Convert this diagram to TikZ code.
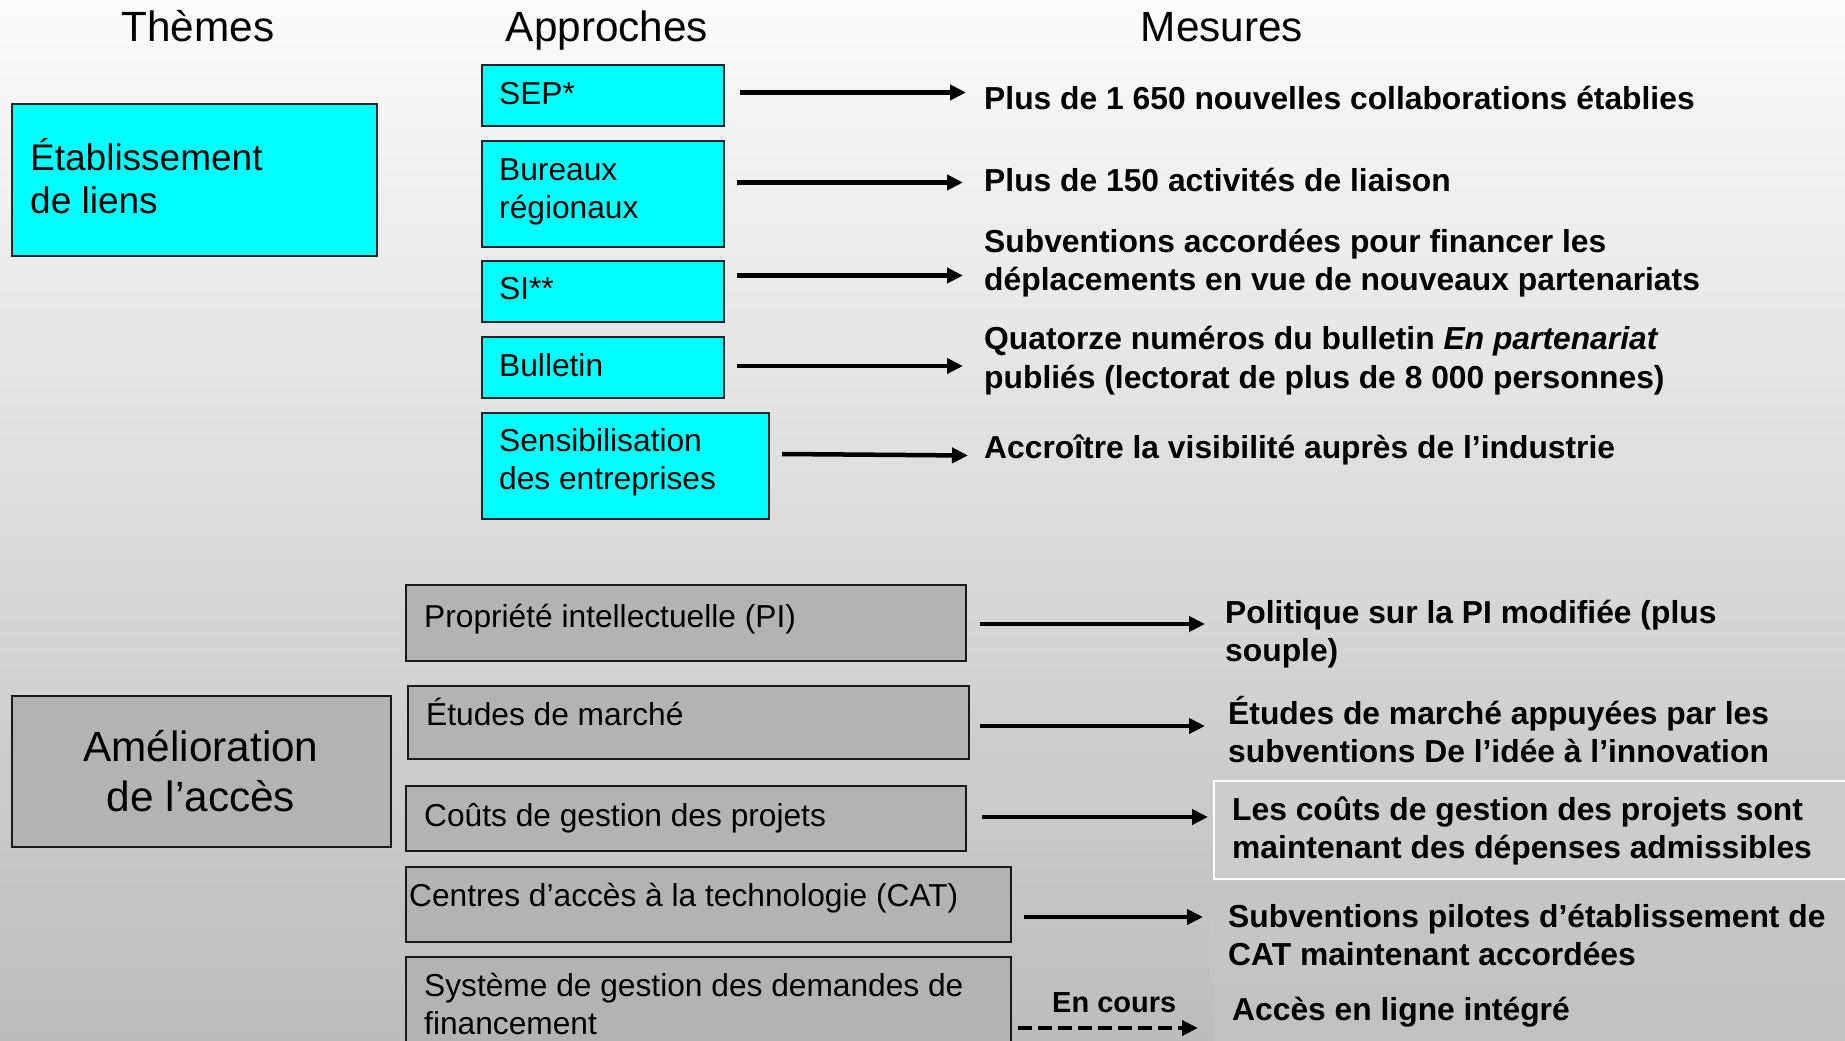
\documentclass[tikz,border=0pt]{standalone}
\usepackage{fontspec}
\setmainfont{Liberation Sans}
\usetikzlibrary{arrows.meta}
\definecolor{cyanbox}{RGB}{0,255,255}
\definecolor{graybox}{RGB}{179,179,179}
\definecolor{bgtop}{RGB}{251,251,251}
\definecolor{bgmid}{RGB}{222,222,222}
\definecolor{bgbot}{RGB}{188,188,188}
\definecolor{patchA}{RGB}{204,204,204}
\definecolor{patchB}{RGB}{197,197,197}
\definecolor{patchC}{RGB}{193,193,193}
\newcommand\fbody{\fontsize{31.7}{38.5}\selectfont}
\newcommand\fmeas{\fontsize{31.8}{38.5}\selectfont\bfseries}
\newcommand\ftitle{\fontsize{42.3}{50}\selectfont}
\newcommand\fetab{\fontsize{37}{43}\selectfont}
\newcommand\famel{\fontsize{42.3}{50}\selectfont}
\newcommand\fcours{\fontsize{29}{35}\selectfont\bfseries}
\newcommand\lns[1]{\begin{tabular}[t]{@{}l@{}}#1\end{tabular}}
\newcommand\clns[1]{\begin{tabular}[t]{@{}c@{}}#1\end{tabular}}
\tikzset{
  cbox/.style={draw=black!85, line width=2pt, fill=cyanbox, inner sep=0pt, anchor=north west},
  gbox/.style={draw=black!90, line width=2pt, fill=graybox, inner sep=0pt, anchor=north west},
  patch/.style={inner sep=0pt, anchor=north west, draw=none},
  txt/.style={inner sep=0pt, anchor=base west, font=\fbody},
  meas/.style={inner sep=0pt, anchor=base west, font=\fmeas},
  ttl/.style={inner sep=0pt, anchor=base, font=\ftitle},
  arr/.style={line width=4.5pt, -{Triangle[length=16pt,width=15pt]}},
  darr/.style={arr, dash pattern=on 14pt off 6pt}
}
\begin{document}
\begin{tikzpicture}[x=1pt,y=-1pt]
\useasboundingbox (0,0) rectangle (1845,1041);
\clip (0,0) rectangle (1845,1041);
\shade[top color=bgtop, middle color=bgmid, bottom color=bgbot] (0,0) rectangle (1845,1041);

% titles
\node[ttl] (tthemes) at (198,42) {Thèmes};
\node[ttl] (tappr) at (607,42) {Approches};
\node[ttl] (tmes) at (1222,42) {Mesures};

% theme boxes
\node[cbox, minimum width=365pt, minimum height=152pt] (etab) at (11,102.6) {};
\node[inner sep=0pt, anchor=base west, font=\fetab] (etabt) at (30,170.5) {\lns{Établissement\\de liens}};
\node[gbox, minimum width=379pt, minimum height=151pt] (amel) at (11.4,694.5) {};
\node[inner sep=0pt, anchor=base, font=\famel] (amelt) at (201,761.5) {\clns{Amélioration\\de l’accès}};

% approach boxes (upper)
\node[cbox, minimum width=242pt, minimum height=61pt] (sep) at (480.6,64) {};
\node[txt] (sept) at (499,104) {SEP*};
\node[cbox, minimum width=242pt, minimum height=106.5pt] (bur) at (480.6,139.5) {};
\node[txt] (burt) at (499,180) {\lns{Bureaux\\régionaux}};
\node[cbox, minimum width=242pt, minimum height=61pt] (si) at (480.6,260) {};
\node[txt] (sit) at (499,299.6) {SI**};
\node[cbox, minimum width=242pt, minimum height=61pt] (bul) at (480.6,335.7) {};
\node[txt] (bult) at (499,376.4) {Bulletin};
\node[cbox, minimum width=287.4pt, minimum height=106pt] (sens) at (480.6,411.5) {};
\node[txt] (senst) at (499,451) {\lns{Sensibilisation\\des entreprises}};

% approach boxes (lower)
\node[gbox, minimum width=560.5pt, minimum height=75.5pt] (pi) at (404.5,584) {};
\node[txt] (pit) at (424,627) {Propriété intellectuelle (PI)};
\node[gbox, minimum width=560.7pt, minimum height=72.5pt] (etu) at (407,685) {};
\node[txt] (etut) at (426,725) {Études de marché};
\node[gbox, minimum width=560.5pt, minimum height=65pt] (cou) at (404.5,785) {};
\node[txt] (cout) at (424,826) {Coûts de gestion des projets};
\node[gbox, minimum width=605.5pt, minimum height=75.5pt] (cat) at (404.5,865.5) {};
\node[txt] (catt) at (409,906) {Centres d’accès à la technologie (CAT)};
\node[gbox, minimum width=605.5pt, minimum height=120pt] (sys) at (404.5,956) {};
\node[txt] (syst) at (424,996) {\lns{Système de gestion des demandes de\\financement}};

% measure patches (lower right)
\node[patch, fill=patchA, draw=white, line width=2pt, minimum width=650pt, minimum height=98pt] (lcbox) at (1213,780) {};
\node[patch, fill=patchB, minimum width=650pt, minimum height=96pt] (pbox) at (1209,887) {};
\node[patch, fill=patchC, minimum width=650pt, minimum height=70pt] (abox) at (1214,983) {};

% measures
\node[meas] (m1) at (984,109.5) {Plus de 1 650 nouvelles collaborations établies};
\node[meas] (m2) at (984,191) {Plus de 150 activités de liaison};
\node[meas] (m3) at (984,252) {\lns{Subventions accordées pour financer les\\déplacements en vue de nouveaux partenariats}};
\node[meas] (m4) at (984,349.5) {\lns{Quatorze numéros du bulletin \textit{En partenariat}\\publiés (lectorat de plus de 8 000 personnes)}};
\node[meas] (m5) at (984,458) {Accroître la visibilité auprès de l’industrie};
\node[meas] (m6) at (1225,623) {\lns{Politique sur la PI modifiée (plus\\souple)}};
\node[meas] (m7) at (1228,724) {\lns{Études de marché appuyées par les\\subventions De l’idée à l’innovation}};
\node[meas] (m8) at (1232,820) {\lns{Les coûts de gestion des projets sont\\maintenant des dépenses admissibles}};
\node[meas] (m9) at (1228,927) {\lns{Subventions pilotes d’établissement de\\CAT maintenant accordées}};
\node[meas] (m10) at (1232,1020) {Accès en ligne intégré};
\node[inner sep=0pt, anchor=base west, font=\fcours] (encours) at (1052,1012) {En cours};

% arrow end points
\coordinate (a1s) at (740,92.5);   \coordinate (a1e) at (966,92.5);
\coordinate (a2s) at (737,182.5);  \coordinate (a2e) at (963,182.5);
\coordinate (a3s) at (737,275.5);  \coordinate (a3e) at (963,275.5);
\coordinate (a4s) at (737,366);    \coordinate (a4e) at (963,366);
\coordinate (a5s) at (782,454);    \coordinate (a5e) at (968,455.5);
\coordinate (b1s) at (980,624);    \coordinate (b1e) at (1205,624);
\coordinate (b2s) at (980,726);    \coordinate (b2e) at (1205,726);
\coordinate (b3s) at (982,817);    \coordinate (b3e) at (1208,817);
\coordinate (b4s) at (1024,917);   \coordinate (b4e) at (1203,917);
\coordinate (b5s) at (1018,1028);  \coordinate (b5e) at (1198,1028);

\draw[arr] (a1s) -- (a1e);
\draw[arr] (a2s) -- (a2e);
\draw[arr] (a3s) -- (a3e);
\draw[arr] (a4s) -- (a4e);
\draw[arr] (a5s) -- (a5e);
\draw[arr] (b1s) -- (b1e);
\draw[arr] (b2s) -- (b2e);
\draw[arr] (b3s) -- (b3e);
\draw[arr] (b4s) -- (b4e);
\draw[darr] (b5s) -- (b5e);
\end{tikzpicture}
\end{document}
